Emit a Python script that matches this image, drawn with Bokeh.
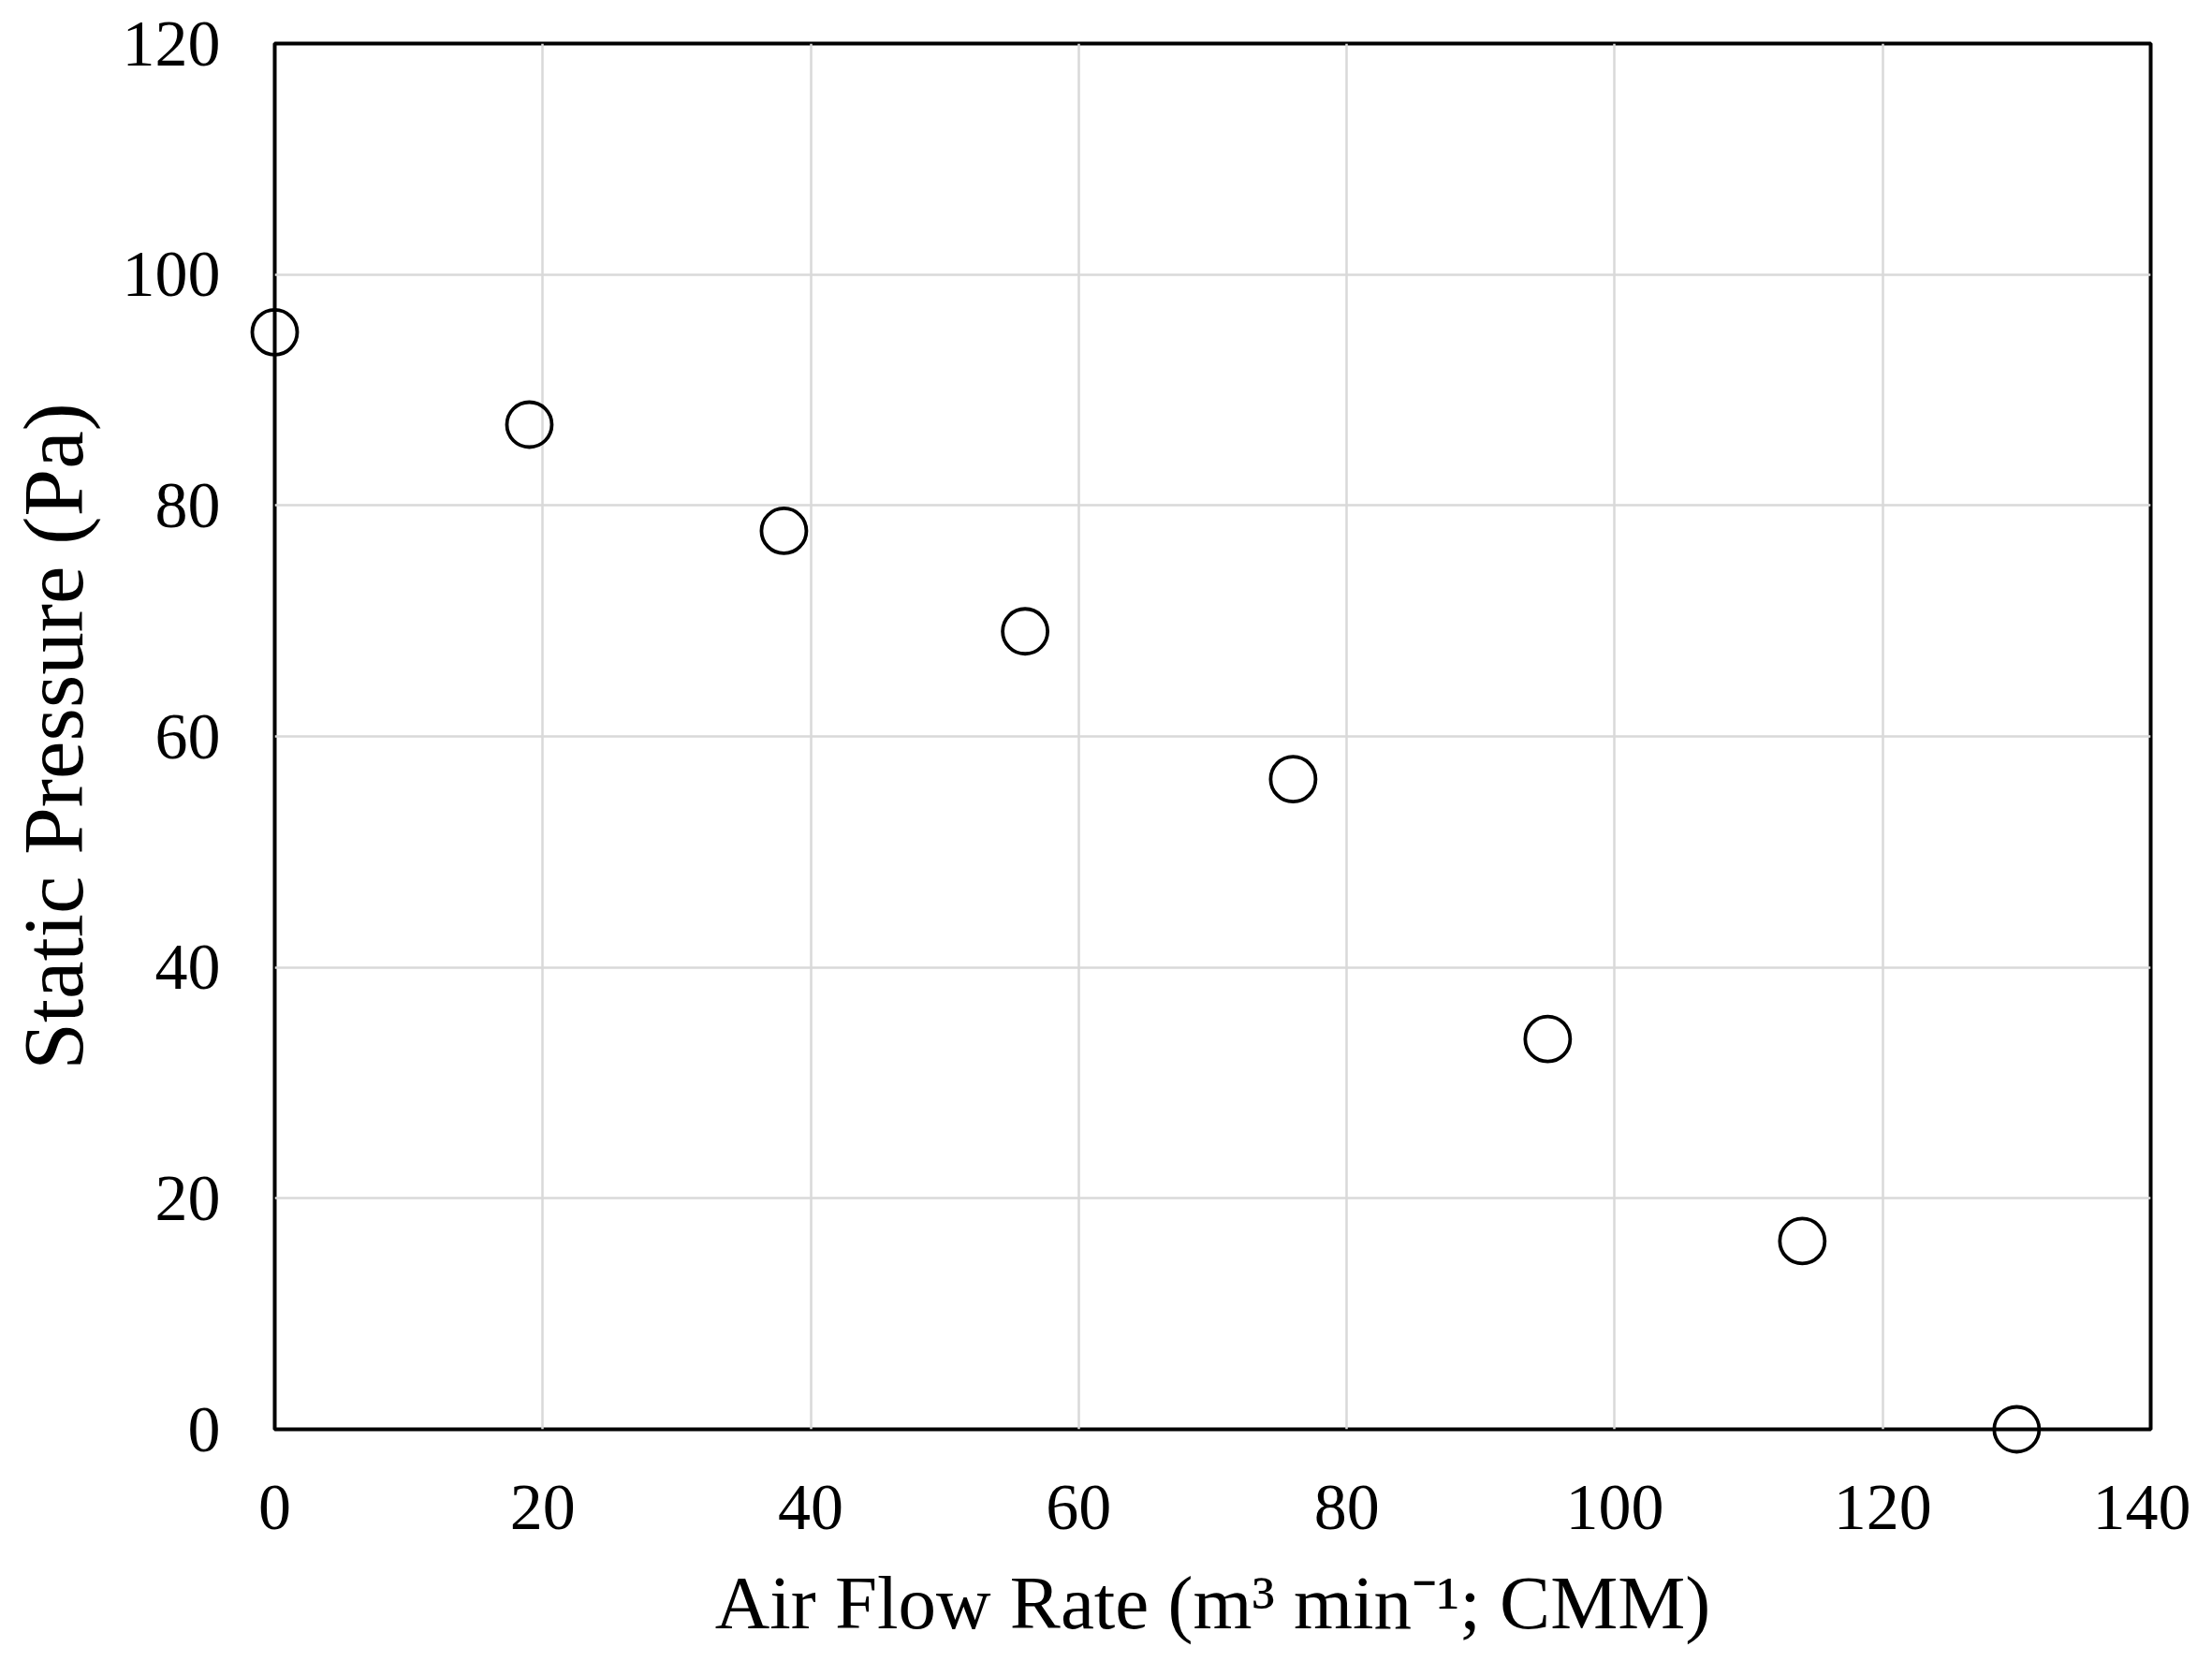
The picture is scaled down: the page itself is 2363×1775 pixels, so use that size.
from bokeh.plotting import figure
from bokeh.models import Range1d, FixedTicker
from bokeh.embed import file_html
from bokeh.resources import INLINE

# Data
air_flow = [0.0, 19.0, 38.0, 56.0, 76.0, 95.0, 114.0, 130.0]
static_pressure = [95.0, 87.0, 77.8, 69.1, 56.3, 33.8, 16.3, 0.0]
x_ticks = [0, 20, 40, 60, 80, 100, 120, 140]
y_ticks = [0, 20, 40, 60, 80, 100, 120]

FONT = "Liberation Serif"

p = figure(width=2340, height=1759, output_backend="svg", toolbar_location=None,
           x_range=Range1d(x_ticks[0], x_ticks[-1]), y_range=Range1d(y_ticks[0], y_ticks[-1]))
p.min_border_left = 293
p.min_border_right = 43
p.min_border_top = 46
p.min_border_bottom = 200

p.background_fill_color = "white"
p.border_fill_color = "white"
p.outline_line_color = "black"
p.outline_line_width = 4
p.outline_line_alpha = 1

p.xaxis.ticker = FixedTicker(ticks=x_ticks)
p.yaxis.ticker = FixedTicker(ticks=y_ticks)
for ax in (p.xaxis, p.yaxis):
    ax.axis_line_color = None
    ax.major_tick_line_color = None
    ax.minor_tick_line_color = None
    ax.major_tick_out = 0
    ax.major_tick_in = 0
    ax.major_label_text_font = FONT
    ax.major_label_text_font_size = "70px"
    ax.major_label_text_color = "black"
    ax.axis_label_text_font = FONT
    ax.axis_label_text_font_style = "normal"
    ax.axis_label_text_color = "black"

p.xaxis.axis_label = "Air Flow Rate (m³ min⁻¹; CMM)"
p.yaxis.axis_label = "Static Pressure (Pa)"
p.xaxis.axis_label_text_font_size = "81px"
p.yaxis.axis_label_text_font_size = "91px"
p.xaxis.major_label_standoff = 60
p.yaxis.major_label_standoff = 58
p.xaxis.axis_label_standoff = 31
p.yaxis.axis_label_standoff = 20

p.xgrid.ticker = FixedTicker(ticks=x_ticks)
p.ygrid.ticker = FixedTicker(ticks=y_ticks)
p.grid.grid_line_color = "#d9d9d9"
p.grid.grid_line_width = 2.5

r = p.scatter(air_flow, static_pressure, marker="circle", size=48,
              fill_color=None, line_color="black", line_width=3.8)
r.level = "overlay"

open("out.html", "w").write(file_html(p, INLINE))
